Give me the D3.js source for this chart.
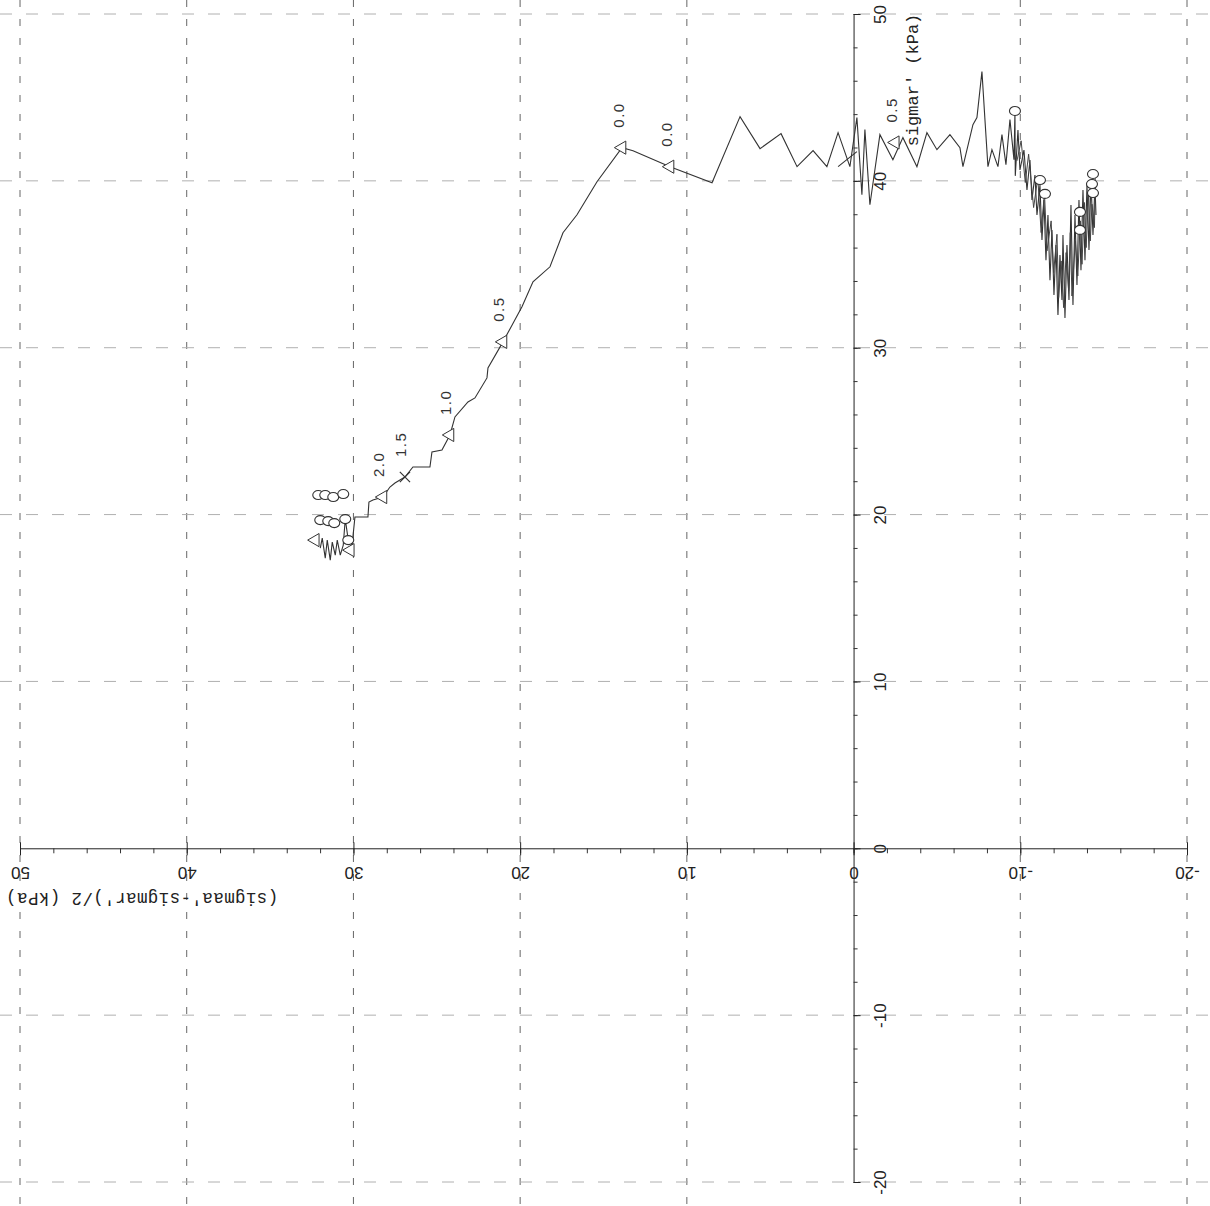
<!DOCTYPE html>
<html>
<head>
<meta charset="utf-8">
<script src="https://cdn.jsdelivr.net/npm/d3@7"></script>
<style>
  html, body { margin: 0; padding: 0; background: #fff; }
  svg { display: block; }
</style>
</head>
<body>
<svg id="chart" width="1210" height="1206"></svg>
<script>
// ---------- data ----------
const xTicks = [50, 40, 30, 20, 10, 0, -10, -20];
const yTicks = [50, 40, 30, 20, 10, 0, -10, -20];
const xLabel = "(sigmaa'-sigmar')/2 (kPa)";
const yLabel = "sigmar' (kPa)";

// stress path [ (sa-sr)/2 , sr ]
const pathPoints = [
  [31.99,17.99],[31.87,18.59],[31.69,17.39],[31.57,18.47],[31.39,17.27],[31.27,18.35],
  [31.09,17.57],[30.97,18.47],[30.79,17.57],[30.61,18.17],[30.49,19.73],[30.31,18.47],
  [30.08,18.18],[29.91,19.85],[29.13,19.85],[29.07,20.75],[28.83,20.87],[28.23,21.05],
  [27.81,21.65],[27.51,21.89],[26.91,22.25],[26.43,22.85],[25.41,22.85],[25.29,23.75],
  [24.69,23.87],[24.21,24.77],[23.91,25.85],[23.13,26.75],[22.71,26.99],[21.99,28.19],
  [21.93,28.79],[21.03,30.35],[19.89,32.45],[19.23,33.95],[18.21,34.85],[17.43,36.89],
  [16.59,37.97],[15.39,39.95],[13.89,41.99],[13.23,41.81],[11.01,40.85],[8.49,39.89],
  [6.81,43.85],[5.61,41.93],[4.35,42.83],[3.39,40.85],[2.43,41.81],[1.60,40.85],
  [0.93,42.89],[0.22,40.85],[-0.20,43.79],[-0.50,39.17],[-0.68,43.07],[-0.98,38.57],
  [-1.58,42.77],[-2.36,41.27],[-2.96,42.59],[-3.80,40.85],[-4.40,42.89],[-5.00,41.87],
  [-5.78,42.77],[-6.38,41.99],[-6.56,40.85],[-7.16,43.37],[-7.40,43.79],[-7.70,46.55],
  [-7.88,43.67],[-8.06,40.85],[-8.30,41.87],[-8.66,40.85],[-8.90,42.77],[-9.14,40.97],
  [-9.38,43.67],[-9.62,41.27],[-9.68,44.10],[-9.70,40.30],[-9.86,43.05],[-9.98,40.65],
  [-10.22,41.85],[-10.40,39.45],[-10.58,41.25],[-10.70,38.85],[-10.88,40.35],[-11.00,37.95],
  [-11.18,39.75],[-11.30,36.45],[-11.42,38.85],[-11.54,35.25],[-11.66,37.95],[-11.78,34.05],
  [-11.90,37.05],[-12.02,33.16],[-12.14,36.15],[-12.26,31.96],[-12.38,35.55],[-12.50,32.86],
  [-12.56,36.75],[-12.68,31.78],[-12.80,36.15],[-12.92,32.86],[-13.04,38.55],[-13.16,32.56],
  [-13.28,37.95],[-13.40,33.76],[-13.52,38.85],[-13.64,34.65],[-13.76,39.45],[-13.88,35.25],
  [-14.00,39.75],[-14.12,35.85],[-14.24,40.05],[-14.36,36.75],[-14.48,39.75],[-14.54,37.95]
];
// second pass through the trough (dense strokes)
const troughPoints = [
  [-9.80,41.20],[-10.05,42.40],[-10.30,39.90],[-10.50,41.60],[-10.80,38.40],[-11.05,40.20],
  [-11.25,36.90],[-11.45,39.30],[-11.60,35.80],[-11.85,37.60],[-12.00,34.50],[-12.20,36.80],
  [-12.30,33.00],[-12.45,35.20],[-12.60,32.40],[-12.75,35.70],[-12.90,33.40],[-13.00,36.90],
  [-13.10,33.10],[-13.30,36.40],[-13.45,34.30],[-13.60,37.60],[-13.70,35.00],[-13.85,38.70],
  [-13.95,36.00],[-14.10,39.20],[-14.20,36.40],[-14.30,38.60],[-14.45,37.20],[-14.50,40.60]
];
const branchPoints = [[0.93,40.85],[-0.20,41.75]];

const triangles = [[30.19,17.87],[32.29,18.47],[28.23,21.05],[24.21,24.77],[21.03,30.35],
                   [13.89,41.99],[11.01,40.85],[-2.50,42.30]];
const crosses = [[26.91,22.25]];
const circles = [[32.11,21.17],[31.69,21.17],[31.21,21.05],[30.61,21.23],
                 [31.99,19.67],[31.51,19.61],[31.15,19.49],[30.49,19.73],[30.31,18.47],
                 [-9.68,44.19],[-11.18,40.05],[-11.48,39.22],[-13.58,38.14],
                 [-14.36,40.41],[-14.30,39.81],[-14.36,39.27],[-13.58,37.06]];
const pointLabels = [[28.23,21.05,"2.0"],[26.91,22.25,"1.5"],[24.21,24.77,"1.0"],
                     [21.03,30.35,"0.5"],[13.89,41.99,"0.0"],[11.01,40.85,"0.0"],
                     [-2.50,42.30,"0.5"]];

// ---------- chart ----------
const W = 1210, H = 1206;
const svg = d3.select("#chart");
const x = d3.scaleLinear().domain([50, -20]).range([20, 1187]);
const y = d3.scaleLinear().domain([50, -20]).range([14, 1182]);
const x0 = x(0), y0 = y(0);

// grid
svg.append("g").selectAll("line").data(xTicks.filter(d => d !== 0)).join("line")
  .attr("x1", d => x(d)).attr("x2", d => x(d)).attr("y1", 0).attr("y2", H)
  .attr("stroke", "#666").attr("stroke-width", 1).attr("stroke-dasharray", "7,12");
svg.append("g").selectAll("line").data(yTicks.filter(d => d !== 0)).join("line")
  .attr("y1", d => y(d)).attr("y2", d => y(d)).attr("x1", 0).attr("x2", W)
  .attr("stroke", "#b0b0b0").attr("stroke-width", 1).attr("stroke-dasharray", "12,14");

const numFmt = d => String(d);
const minorVals = d3.range(-20, 50.001, 2);

// horizontal axis
const gx = svg.append("g").attr("transform", `translate(0,${y0})`);
gx.append("g").call(d3.axisBottom(x).tickValues(minorVals).tickSize(5).tickFormat(""))
  .call(g => g.select(".domain").attr("stroke", "#222"))
  .call(g => g.selectAll(".tick line").attr("stroke", "#333"));
const gxMaj = gx.append("g").call(d3.axisBottom(x).tickValues(xTicks).tickSize(7).tickSizeOuter(0).tickFormat(numFmt));
gxMaj.select(".domain").remove();
gxMaj.selectAll(".tick line").attr("y1", -6).attr("stroke", "#222");
gxMaj.selectAll(".tick text")
  .attr("y", 0).attr("dy", null)
  .attr("dominant-baseline", "central")
  .attr("transform", "translate(0,24) rotate(180)")
  .attr("font-family", "Liberation Sans, Arial, sans-serif")
  .attr("font-size", 17).attr("fill", "#222");

// vertical axis
const gy = svg.append("g").attr("transform", `translate(${x0},0)`);
gy.append("g").call(d3.axisRight(y).tickValues(minorVals).tickSize(4).tickFormat(""))
  .call(g => g.select(".domain").attr("stroke", "#222"))
  .call(g => g.selectAll(".tick line").attr("stroke", "#333"));
const gyMaj = gy.append("g").call(d3.axisRight(y).tickValues(yTicks).tickSize(7).tickSizeOuter(0).tickFormat(numFmt));
gyMaj.select(".domain").remove();
gyMaj.selectAll(".tick line").attr("stroke", "#222");
gyMaj.selectAll(".tick text")
  .attr("x", 0).attr("dy", null)
  .attr("text-anchor", "middle")
  .attr("dominant-baseline", "central")
  .attr("transform", "translate(27,0) rotate(-90)")
  .attr("font-family", "Liberation Sans, Arial, sans-serif")
  .attr("font-size", 17).attr("fill", "#222");

// axis titles
svg.append("text")
  .attr("transform", `translate(142,898) rotate(180)`)
  .attr("text-anchor", "middle").attr("dominant-baseline", "central")
  .attr("font-family", "Liberation Mono, Courier New, monospace")
  .attr("font-size", 17.5).attr("letter-spacing", 0.4).attr("fill", "#222")
  .text(xLabel);
svg.append("text")
  .attr("transform", `translate(913,80) rotate(-90)`)
  .attr("text-anchor", "middle").attr("dominant-baseline", "central")
  .attr("font-family", "Liberation Mono, Courier New, monospace")
  .attr("font-size", 17).attr("fill", "#222")
  .text(yLabel);

// path
const line = d3.line().x(d => x(d[0])).y(d => y(d[1]));
svg.append("path").datum(pathPoints).attr("d", line)
  .attr("fill", "none").attr("stroke", "#333").attr("stroke-width", 1.1);
svg.append("path").datum(troughPoints).attr("d", line)
  .attr("fill", "none").attr("stroke", "#444").attr("stroke-width", 1);
svg.append("path").datum(branchPoints).attr("d", line)
  .attr("fill", "none").attr("stroke", "#333").attr("stroke-width", 1.1);

// markers
const tri = d3.symbol().type(d3.symbolTriangle).size(75);
svg.append("g").selectAll("path").data(triangles).join("path")
  .attr("d", tri)
  .attr("transform", d => `translate(${x(d[0])},${y(d[1])}) rotate(-90)`)
  .attr("fill", "#fff").attr("stroke", "#333").attr("stroke-width", 1);

const timesType = d3.symbolTimes || d3.symbolX || d3.symbolCross;
svg.append("g").selectAll("path").data(crosses).join("path")
  .attr("d", d3.symbol().type(timesType).size(70))
  .attr("transform", d => `translate(${x(d[0])},${y(d[1])})`)
  .attr("fill", "none").attr("stroke", "#333").attr("stroke-width", 1.2);

svg.append("g").selectAll("ellipse").data(circles).join("ellipse")
  .attr("cx", d => x(d[0])).attr("cy", d => y(d[1]))
  .attr("rx", 5.5).attr("ry", 4.5)
  .attr("fill", "#fff").attr("stroke", "#333").attr("stroke-width", 1.1);

// point labels
svg.append("g").selectAll("text").data(pointLabels).join("text")
  .attr("transform", d => `translate(${x(d[0]) - 4},${y(d[1]) - 20}) rotate(-90)`)
  .attr("text-anchor", "start").attr("dominant-baseline", "central")
  .attr("font-family", "Liberation Sans, Arial, sans-serif")
  .attr("font-size", 15).attr("letter-spacing", 1.5).attr("fill", "#333")
  .text(d => d[2]);
</script>
</body>
</html>
